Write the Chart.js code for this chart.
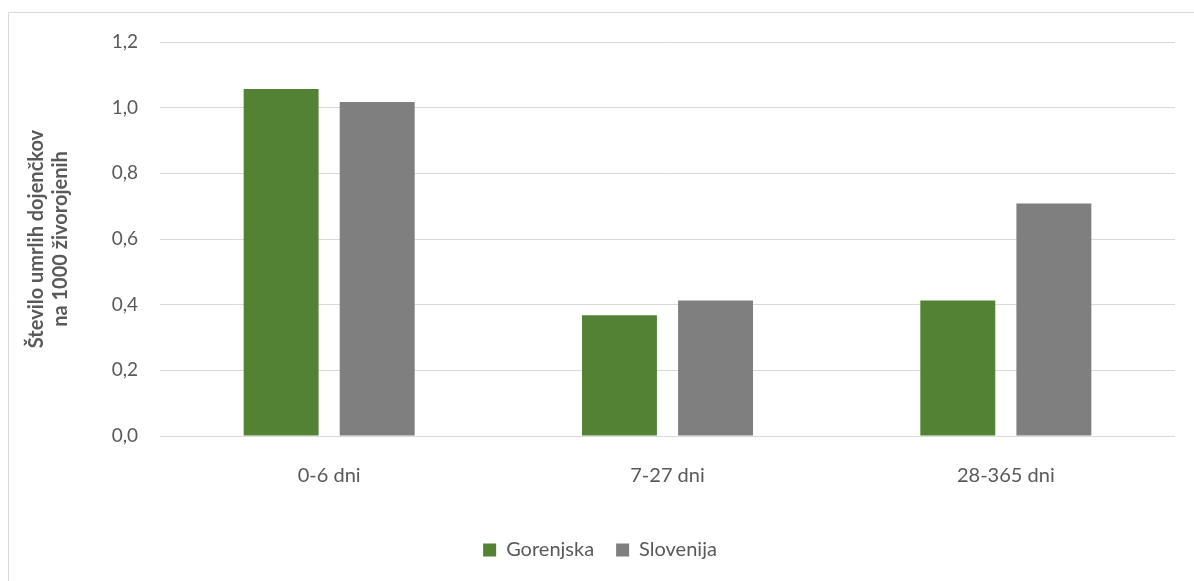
<!DOCTYPE html>
<html>
<head>
<meta charset="utf-8">
<script src="https://cdn.jsdelivr.net/npm/chart.js@4/dist/chart.umd.min.js"></script>
<style>
  html, body { margin: 0; padding: 0; background: #ffffff; }
  #wrap { position: relative; width: 1194px; height: 581px; }
  canvas { display: block; }
</style>
</head>
<body>
<div id="wrap"><canvas id="c" width="1194" height="581"></canvas></div>
<script>
const categories = ["0-6 dni", "7-27 dni", "28-365 dni"];
const gorenjska = [1.057, 0.368, 0.413];
const slovenija = [1.017, 0.413, 0.708];
const seriesNames = ["Gorenjska", "Slovenija"];
const yTicks = [0, 0.2, 0.4, 0.6, 0.8, 1.0, 1.2];
const yTitle = ["Število umrlih dojenčkov", "na 1000 živorojenih"];

const FONT = "Lato, 'Open Sans', sans-serif";
const TXT = "#595959";

const borderPlugin = {
  id: 'frame',
  beforeDraw(chart) {
    const ctx = chart.ctx;
    ctx.save();
    ctx.fillStyle = '#ffffff';
    ctx.fillRect(0, 0, chart.width, chart.height);
    ctx.strokeStyle = '#d9d9d9';
    ctx.lineWidth = 1;
    ctx.beginPath();
    ctx.moveTo(8.5, chart.height);
    ctx.lineTo(8.5, 12.5);
    ctx.lineTo(chart.width, 12.5);
    ctx.stroke();
    ctx.restore();
  }
};

new Chart(document.getElementById('c'), {
  type: 'bar',
  data: {
    labels: categories,
    datasets: [
      { label: seriesNames[0], data: gorenjska, backgroundColor: '#548235', borderWidth: 0 },
      { label: seriesNames[1], data: slovenija, backgroundColor: '#7f7f7f', borderWidth: 0 }
    ]
  },
  options: {
    responsive: false,
    animation: false,
    devicePixelRatio: 1,
    categoryPercentage: 0.568,
    barPercentage: 0.78,
    layout: { padding: { left: 25, right: 19, top: 42, bottom: 11 } },
    plugins: {
      legend: {
        position: 'bottom',
        labels: {
          boxWidth: 13, boxHeight: 13,
          color: TXT,
          font: { family: FONT, size: 20 },
          padding: 22
        }
      },
      tooltip: { enabled: false }
    },
    scales: {
      x: {
        grid: { display: false },
        border: { display: false },
        ticks: { color: TXT, font: { family: FONT, size: 20 }, padding: 20 },
        afterFit(scale) { scale.height = 82; }
      },
      y: {
        min: 0, max: 1.2,
        afterBuildTicks(scale) { scale.ticks = yTicks.map(v => ({ value: v })); },
        grid: { color: '#d9d9d9', lineWidth: 1, drawTicks: false },
        border: { display: false },
        ticks: {
          color: TXT,
          font: { family: FONT, size: 19 },
          padding: 22,
          callback: v => v.toFixed(1).replace('.', ',')
        },
        title: {
          display: true,
          text: yTitle,
          color: TXT,
          font: { family: FONT, size: 20, weight: 'bold' },
          padding: { top: 0, bottom: 0 }
        },
        afterFit(scale) { scale.width = 135; }
      }
    }
  },
  plugins: [borderPlugin]
});
</script>
</body>
</html>
